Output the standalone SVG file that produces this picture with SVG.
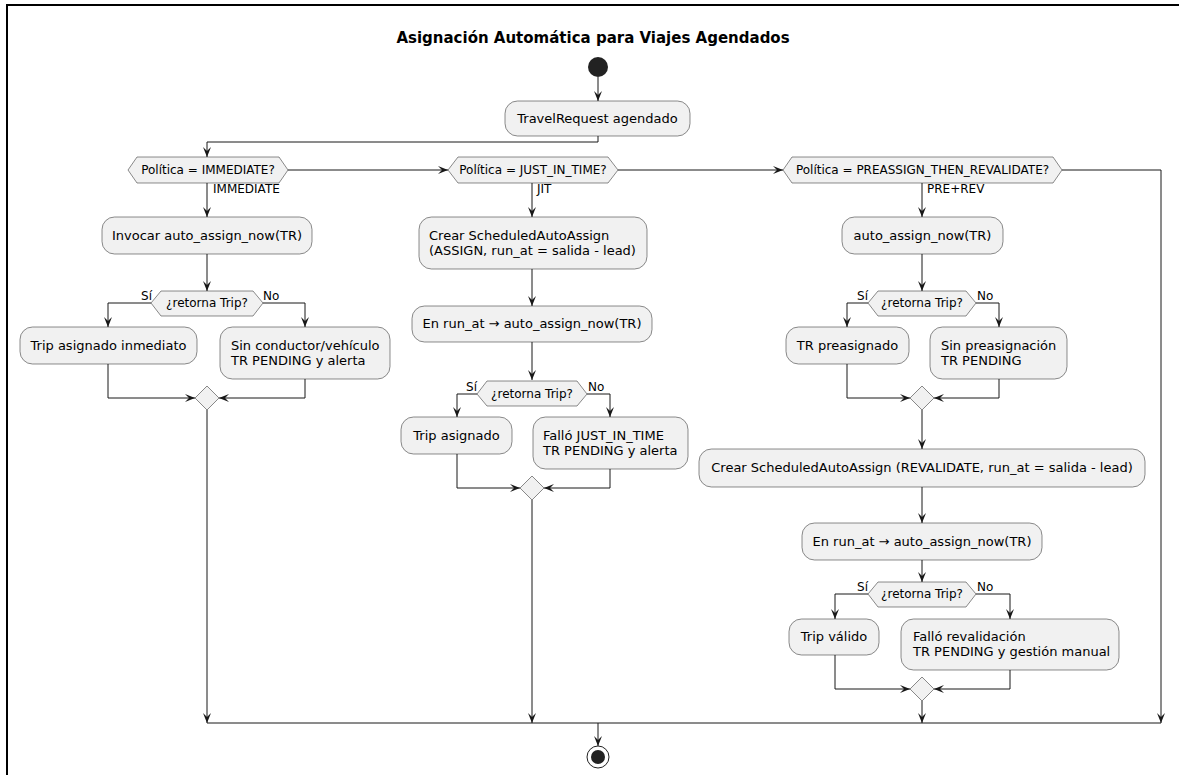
<svg xmlns="http://www.w3.org/2000/svg" width="1179" height="775" viewBox="0 0 1179 775">
  <style>
    .frame { fill: none; stroke: #000; stroke-width: 2; }
    .box { fill: #F1F1F1; stroke: #181818; stroke-width: 0.5; }
    .dec { fill: #F1F1F1; stroke: #181818; stroke-width: 0.5; }
    .t { font-family: "DejaVu Sans", sans-serif; font-size: 13px; fill: #000; }
    .s { font-family: "DejaVu Sans", sans-serif; font-size: 12px; fill: #000; }
    .c { text-anchor: middle; }
    .e { text-anchor: end; }
    .title { font-family: "DejaVu Sans", sans-serif; font-size: 15px; font-weight: bold; text-anchor: middle; fill: #000; }
    .ln { fill: none; stroke: #181818; stroke-width: 1; }
  </style>
  <defs>
    <marker id="ah" viewBox="0 0 10 10" refX="10" refY="5" markerWidth="10" markerHeight="10" markerUnits="userSpaceOnUse" orient="auto">
      <path d="M0,1 L10,5 L0,9 L4,5 Z" fill="#181818"/>
    </marker>
  </defs>

  <rect class="frame" x="7" y="5" width="1190" height="800"/>
  <text class="title" x="593" y="43">Asignación Automática para Viajes Agendados</text>

  <!-- connectors -->
  <g id="connectors">
    <line class="ln" x1="598" y1="77" x2="598" y2="101" marker-end="url(#ah)"/>
    <polyline class="ln" points="598,136 598,142 207,142 207,157" marker-end="url(#ah)"/>
    <line class="ln" x1="288" y1="170" x2="448" y2="170" marker-end="url(#ah)"/>
    <line class="ln" x1="618" y1="170" x2="783" y2="170" marker-end="url(#ah)"/>
    <polyline class="ln" points="1062,170 1161,170 1161,723" marker-end="url(#ah)"/>

    <!-- IMMEDIATE column -->
    <line class="ln" x1="207" y1="183" x2="207" y2="217" marker-end="url(#ah)"/>
    <line class="ln" x1="207" y1="254" x2="207" y2="291" marker-end="url(#ah)"/>
    <polyline class="ln" points="151,303 108,303 108,327" marker-end="url(#ah)"/>
    <polyline class="ln" points="263,303 305,303 305,327" marker-end="url(#ah)"/>
    <polyline class="ln" points="108,364 108,398 195,398" marker-end="url(#ah)"/>
    <polyline class="ln" points="305,379 305,398 219,398" marker-end="url(#ah)"/>
    <line class="ln" x1="207" y1="410" x2="207" y2="723" marker-end="url(#ah)"/>

    <!-- JUST_IN_TIME column -->
    <line class="ln" x1="532" y1="183" x2="532" y2="217" marker-end="url(#ah)"/>
    <line class="ln" x1="532" y1="269" x2="532" y2="306" marker-end="url(#ah)"/>
    <line class="ln" x1="532" y1="342" x2="532" y2="380" marker-end="url(#ah)"/>
    <polyline class="ln" points="477,394 457,394 457,417" marker-end="url(#ah)"/>
    <polyline class="ln" points="587,394 610,394 610,417" marker-end="url(#ah)"/>
    <polyline class="ln" points="457,454 457,488 520,488" marker-end="url(#ah)"/>
    <polyline class="ln" points="610,469 610,488 544,488" marker-end="url(#ah)"/>
    <line class="ln" x1="532" y1="500" x2="532" y2="723" marker-end="url(#ah)"/>

    <!-- PREASSIGN_THEN_REVALIDATE column -->
    <line class="ln" x1="922" y1="183" x2="922" y2="217" marker-end="url(#ah)"/>
    <line class="ln" x1="922" y1="254" x2="922" y2="291" marker-end="url(#ah)"/>
    <polyline class="ln" points="868,303 847,303 847,327" marker-end="url(#ah)"/>
    <polyline class="ln" points="976,303 999,303 999,327" marker-end="url(#ah)"/>
    <polyline class="ln" points="847,364 847,398 910,398" marker-end="url(#ah)"/>
    <polyline class="ln" points="999,379 999,398 934,398" marker-end="url(#ah)"/>
    <line class="ln" x1="922" y1="410" x2="922" y2="449" marker-end="url(#ah)"/>
    <line class="ln" x1="922" y1="487" x2="922" y2="523" marker-end="url(#ah)"/>
    <line class="ln" x1="922" y1="560" x2="922" y2="582" marker-end="url(#ah)"/>
    <polyline class="ln" points="868,594 835,594 835,619" marker-end="url(#ah)"/>
    <polyline class="ln" points="976,594 1010,594 1010,619" marker-end="url(#ah)"/>
    <polyline class="ln" points="835,655 835,689 910,689" marker-end="url(#ah)"/>
    <polyline class="ln" points="1010,670 1010,689 934,689" marker-end="url(#ah)"/>
    <line class="ln" x1="922" y1="701" x2="922" y2="723" marker-end="url(#ah)"/>

    <!-- join and end -->
    <line class="ln" x1="207" y1="723" x2="1161" y2="723"/>
    <line class="ln" x1="598" y1="723" x2="598" y2="746" marker-end="url(#ah)"/>

    <!-- branch labels -->
    <text class="s" x="213" y="193">IMMEDIATE</text>
    <text class="s" x="537" y="193">JIT</text>
    <text class="s" x="927" y="193">PRE+REV</text>
    <text class="s e" x="152" y="300">Sí</text>
    <text class="s" x="263" y="300">No</text>
    <text class="s e" x="477" y="391">Sí</text>
    <text class="s" x="588" y="391">No</text>
    <text class="s e" x="868" y="300">Sí</text>
    <text class="s" x="977" y="300">No</text>
    <text class="s e" x="868" y="591">Sí</text>
    <text class="s" x="977" y="591">No</text>
  </g>

  <g id="start"><circle cx="598" cy="67" r="10" fill="#222"/></g>

  <g id="travel-request">
    <rect class="box" x="505" y="101" width="185" height="35" rx="12.5"/>
    <text class="t c" x="597.5" y="123">TravelRequest agendado</text>
  </g>

  <g id="dec-immediate">
    <polygon class="dec" points="128,170 137,157 279,157 288,170 279,183 137,183"/>
    <text class="s c" x="208" y="174">Política = IMMEDIATE?</text>
  </g>
  <g id="dec-jit">
    <polygon class="dec" points="448,170 458,157 608,157 618,170 608,183 458,183"/>
    <text class="s c" x="533" y="174">Política = JUST_IN_TIME?</text>
  </g>
  <g id="dec-pre">
    <polygon class="dec" points="783,170 792,157 1053,157 1062,170 1053,183 792,183"/>
    <text class="s c" x="922.5" y="174">Política = PREASSIGN_THEN_REVALIDATE?</text>
  </g>

  <!-- IMMEDIATE branch -->
  <g id="invocar">
    <rect class="box" x="102" y="217" width="210" height="37" rx="12.5"/>
    <text class="t c" x="207" y="240">Invocar auto_assign_now(TR)</text>
  </g>
  <g id="dec-ret-1">
    <polygon class="dec" points="151,303 161,291 253,291 263,303 253,316 161,316"/>
    <text class="s c" x="207" y="307">¿retorna Trip?</text>
  </g>
  <g id="trip-inmediato">
    <rect class="box" x="20" y="327" width="177" height="37" rx="12.5"/>
    <text class="t c" x="108.5" y="350">Trip asignado inmediato</text>
  </g>
  <g id="sin-conductor">
    <rect class="box" x="220" y="327" width="170" height="52" rx="12.5"/>
    <text class="t" x="231" y="350">Sin conductor/vehículo</text>
    <text class="t" x="231" y="365">TR PENDING y alerta</text>
  </g>
  <g id="merge-1"><polygon class="dec" points="207,386 219,398 207,410 195,398"/></g>

  <!-- JUST_IN_TIME branch -->
  <g id="crear-assign">
    <rect class="box" x="419" y="217" width="228" height="52" rx="12.5"/>
    <text class="t" x="429" y="240">Crear ScheduledAutoAssign</text>
    <text class="t" x="429" y="255">(ASSIGN, run_at = salida - lead)</text>
  </g>
  <g id="run-at-1">
    <rect class="box" x="412" y="306" width="240" height="36" rx="12.5"/>
    <text class="t c" x="532" y="328">En run_at → auto_assign_now(TR)</text>
  </g>
  <g id="dec-ret-2">
    <polygon class="dec" points="477,394 487,381 577,381 587,394 577,406 487,406"/>
    <text class="s c" x="532" y="398">¿retorna Trip?</text>
  </g>
  <g id="trip-asignado">
    <rect class="box" x="401" y="417" width="111" height="37" rx="12.5"/>
    <text class="t c" x="456.5" y="440">Trip asignado</text>
  </g>
  <g id="fallo-jit">
    <rect class="box" x="533" y="417" width="155" height="52" rx="12.5"/>
    <text class="t" x="543" y="440">Falló JUST_IN_TIME</text>
    <text class="t" x="543" y="455">TR PENDING y alerta</text>
  </g>
  <g id="merge-2"><polygon class="dec" points="532,476 544,488 532,500 520,488"/></g>

  <!-- PREASSIGN_THEN_REVALIDATE branch -->
  <g id="auto-assign">
    <rect class="box" x="842" y="217" width="161" height="37" rx="12.5"/>
    <text class="t c" x="922.5" y="240">auto_assign_now(TR)</text>
  </g>
  <g id="dec-ret-3">
    <polygon class="dec" points="868,303 878,291 966,291 976,303 966,316 878,316"/>
    <text class="s c" x="922" y="307">¿retorna Trip?</text>
  </g>
  <g id="tr-preasignado">
    <rect class="box" x="786" y="327" width="123" height="37" rx="12.5"/>
    <text class="t c" x="847.5" y="350">TR preasignado</text>
  </g>
  <g id="sin-preasignacion">
    <rect class="box" x="930" y="327" width="137" height="52" rx="12.5"/>
    <text class="t" x="941" y="350">Sin preasignación</text>
    <text class="t" x="941" y="365">TR PENDING</text>
  </g>
  <g id="merge-3"><polygon class="dec" points="922,386 934,398 922,410 910,398"/></g>
  <g id="crear-revalidate">
    <rect class="box" x="699" y="449" width="446" height="38" rx="12.5"/>
    <text class="t c" x="922" y="472">Crear ScheduledAutoAssign (REVALIDATE, run_at = salida - lead)</text>
  </g>
  <g id="run-at-2">
    <rect class="box" x="802" y="523" width="240" height="37" rx="12.5"/>
    <text class="t c" x="922" y="546">En run_at → auto_assign_now(TR)</text>
  </g>
  <g id="dec-ret-4">
    <polygon class="dec" points="868,594 878,582 966,582 976,594 966,607 878,607"/>
    <text class="s c" x="922" y="598">¿retorna Trip?</text>
  </g>
  <g id="trip-valido">
    <rect class="box" x="789" y="619" width="90" height="36" rx="12.5"/>
    <text class="t c" x="834" y="641">Trip válido</text>
  </g>
  <g id="fallo-revalidacion">
    <rect class="box" x="901" y="619" width="218" height="51" rx="12.5"/>
    <text class="t" x="913" y="641">Falló revalidación</text>
    <text class="t" x="913" y="656">TR PENDING y gestión manual</text>
  </g>
  <g id="merge-4"><polygon class="dec" points="922,677 934,689 922,701 910,689"/></g>

  <g id="end">
    <circle cx="598" cy="757" r="11" fill="none" stroke="#222" stroke-width="1"/>
    <circle cx="598" cy="757" r="7" fill="#222"/>
  </g>
</svg>
